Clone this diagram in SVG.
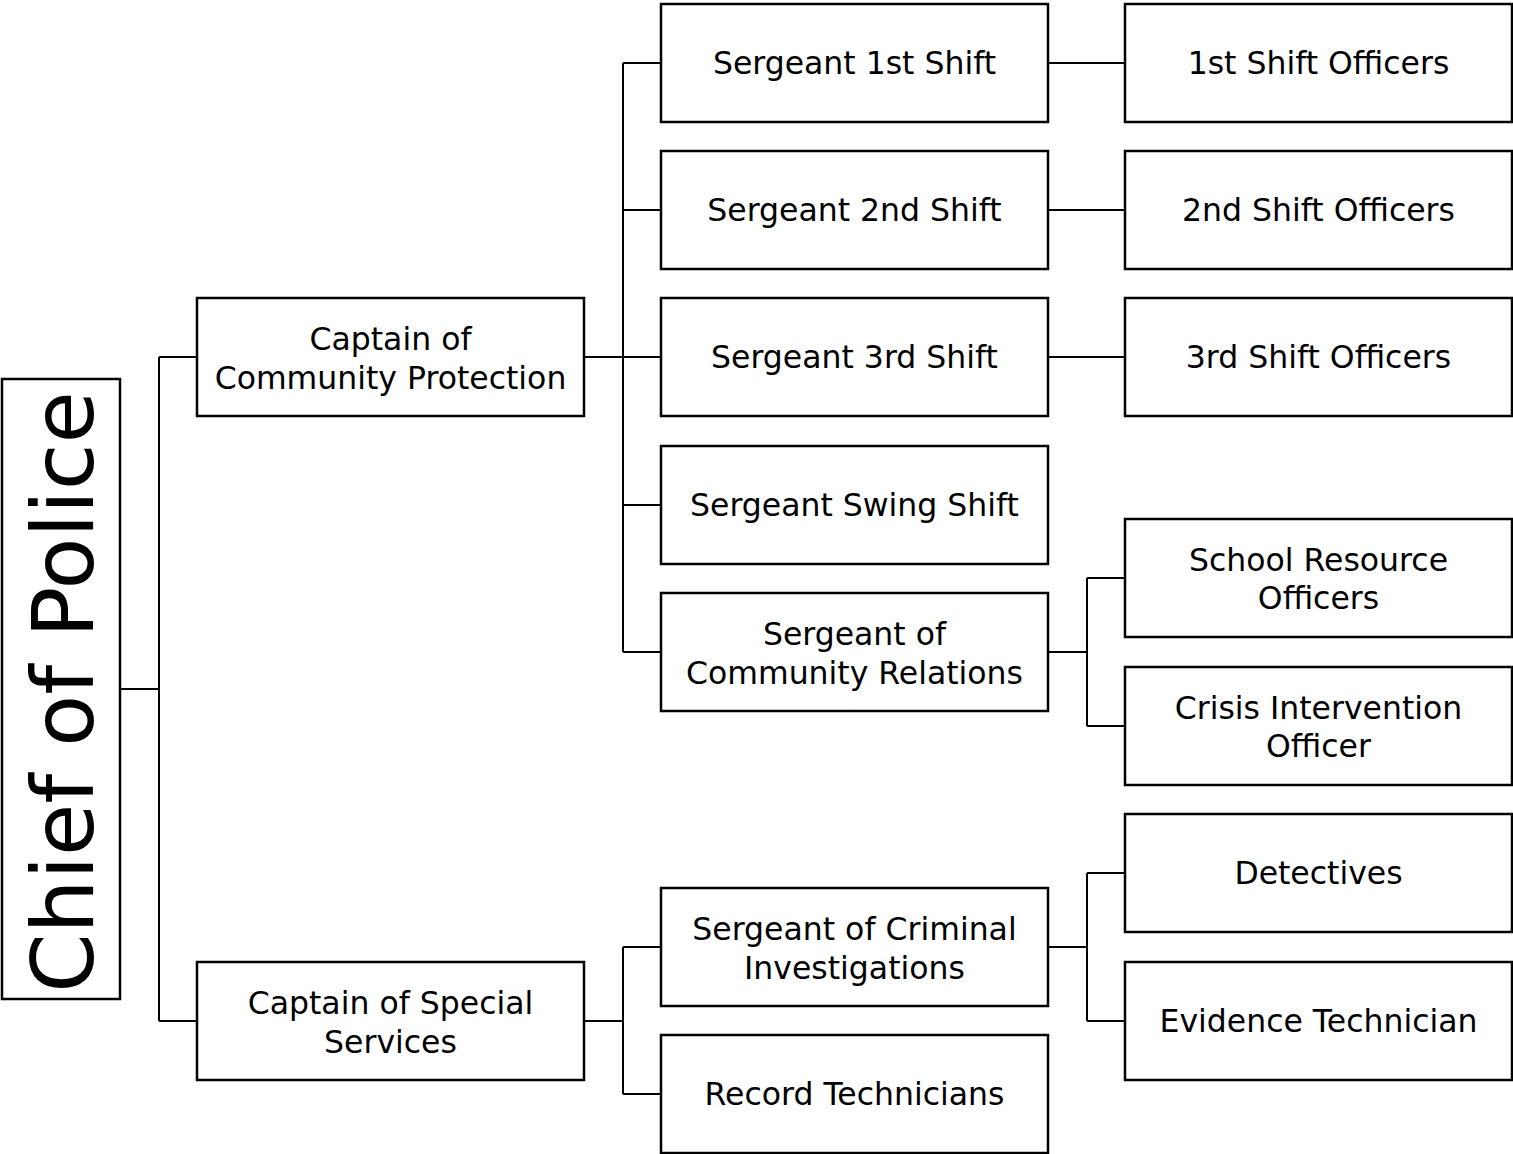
<svg xmlns="http://www.w3.org/2000/svg" width="1513" height="1154" viewBox="0 0 1513 1154">
<style>
.box{fill:#fff;stroke:#000;stroke-width:2.5}
.ln{fill:none;stroke:#000;stroke-width:2}
text{font-family:"DejaVu Sans",sans-serif;font-size:31.5px;fill:#000;text-anchor:middle}
.big{font-size:85px}
</style>
<rect width="1513" height="1154" fill="#fff"/>
<g id="connectors">
<path class="ln" d="M120,689H159M159,357V1021M159,357H197M159,1021H197"/>
<path class="ln" d="M584,357H623M623,63V652M623,63H661M623,210H661M623,357H661M623,505H661M623,652H661"/>
<path class="ln" d="M1048,63H1125M1048,210H1125M1048,357H1125"/>
<path class="ln" d="M1048,652H1087M1087,578V726M1087,578H1125M1087,726H1125"/>
<path class="ln" d="M584,1021H623M623,947V1094M623,947H661M623,1094H661"/>
<path class="ln" d="M1048,947H1087M1087,873V1021M1087,873H1125M1087,1021H1125"/>
</g>
<g id="chief"><rect class="box" x="2" y="379" width="118" height="620"/><text class="big" transform="translate(93,692) rotate(-90)">Chief of Police</text></g>
<g id="capt-cp"><rect class="box" x="197" y="298" width="387" height="118"/><text x="390.5" y="350">Captain of</text><text x="390.5" y="389">Community Protection</text></g>
<g id="capt-ss"><rect class="box" x="197" y="962" width="387" height="118"/><text x="390.5" y="1014">Captain of Special</text><text x="390.5" y="1053">Services</text></g>
<g id="sgt1"><rect class="box" x="661" y="4" width="387" height="118"/><text x="854.5" y="74">Sergeant 1st Shift</text></g>
<g id="sgt2"><rect class="box" x="661" y="151" width="387" height="118"/><text x="854.5" y="221">Sergeant 2nd Shift</text></g>
<g id="sgt3"><rect class="box" x="661" y="298" width="387" height="118"/><text x="854.5" y="368">Sergeant 3rd Shift</text></g>
<g id="sgtswing"><rect class="box" x="661" y="446" width="387" height="118"/><text x="854.5" y="516">Sergeant Swing Shift</text></g>
<g id="sgtcr"><rect class="box" x="661" y="593" width="387" height="118"/><text x="854.5" y="645">Sergeant of</text><text x="854.5" y="684">Community Relations</text></g>
<g id="sgtci"><rect class="box" x="661" y="888" width="387" height="118"/><text x="854.5" y="940">Sergeant of Criminal</text><text x="854.5" y="979">Investigations</text></g>
<g id="records"><rect class="box" x="661" y="1035" width="387" height="118"/><text x="854.5" y="1105">Record Technicians</text></g>
<g id="off1"><rect class="box" x="1125" y="4" width="387" height="118"/><text x="1318.5" y="74">1st Shift Officers</text></g>
<g id="off2"><rect class="box" x="1125" y="151" width="387" height="118"/><text x="1318.5" y="221">2nd Shift Officers</text></g>
<g id="off3"><rect class="box" x="1125" y="298" width="387" height="118"/><text x="1318.5" y="368">3rd Shift Officers</text></g>
<g id="sro"><rect class="box" x="1125" y="519" width="387" height="118"/><text x="1318.5" y="571">School Resource</text><text x="1318.5" y="609">Officers</text></g>
<g id="cio"><rect class="box" x="1125" y="667" width="387" height="118"/><text x="1318.5" y="719">Crisis Intervention</text><text x="1318.5" y="757">Officer</text></g>
<g id="detectives"><rect class="box" x="1125" y="814" width="387" height="118"/><text x="1318.5" y="884">Detectives</text></g>
<g id="evidence"><rect class="box" x="1125" y="962" width="387" height="118"/><text x="1318.5" y="1032">Evidence Technician</text></g>
</svg>
